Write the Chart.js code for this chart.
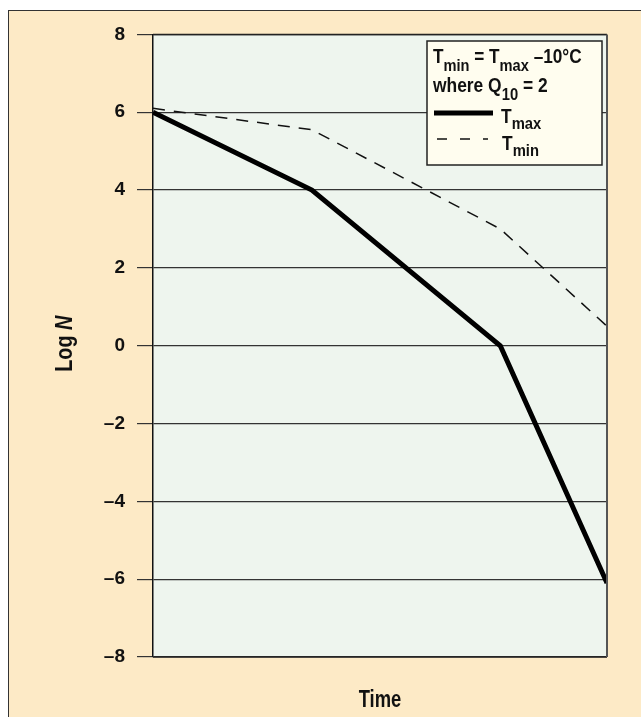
<!DOCTYPE html>
<html><head><meta charset="utf-8">
<script src="https://cdn.jsdelivr.net/npm/chart.js@4"></script>
<style>
html,body{margin:0;padding:0;background:#fff;}
#panel{position:absolute;left:8px;top:10px;width:632px;height:706px;background:#FDEAC6;border-top:1px solid #333;border-left:1px solid #333;}
canvas{display:block;}
</style></head><body>
<div id="panel"><canvas id="c" width="632" height="706"></canvas></div>
<script>
const timePoints = [0, 3.5, 7.65, 10];
const tmaxLogN = [6, 4, 0, -6.1];
const tminLogN = [6.1, 5.55, 3.0, 0.5];
const yTickValues = [-8, -6, -4, -2, 0, 2, 4, 6, 8];
const yTickLabels = ['–8', '–6', '–4', '–2', '0', '2', '4', '6', '8'];
const xAxisTitle = 'Time';
const yAxisTitle = ['Log ', 'N'];

const FONT = "'Liberation Sans', Arial, sans-serif";

// draws text parts (with subscripts) horizontally condensed by sx
function drawRich(ctx, parts, x, y, size, subSize, subOff, sx) {
  ctx.save();
  ctx.translate(x, y);
  ctx.scale(sx, 1);
  ctx.textAlign = 'left';
  ctx.textBaseline = 'alphabetic';
  let cx = 0;
  for (const p of parts) {
    if (p.sub) {
      ctx.font = 'bold ' + subSize + 'px ' + FONT;
      ctx.fillText(p.t, cx, subOff);
    } else {
      ctx.font = (p.it ? 'italic ' : '') + 'bold ' + size + 'px ' + FONT;
      ctx.fillText(p.t, cx, 0);
    }
    cx += ctx.measureText(p.t).width;
  }
  ctx.restore();
  return cx * sx;
}
function measureRich(ctx, parts, size, subSize, sx) {
  let w = 0;
  ctx.save();
  for (const p of parts) {
    ctx.font = p.sub ? 'bold ' + subSize + 'px ' + FONT : (p.it ? 'italic ' : '') + 'bold ' + size + 'px ' + FONT;
    w += ctx.measureText(p.t).width;
  }
  ctx.restore();
  return w * sx;
}

const bgPlugin = {
  id: 'bg',
  beforeDraw(chart) {
    const {ctx, chartArea: a} = chart;
    ctx.save();
    ctx.fillStyle = '#EEF5EE';
    ctx.fillRect(a.left, a.top, a.right - a.left, a.bottom - a.top);
    ctx.restore();
  }
};

const framePlugin = {
  id: 'frame',
  afterDatasetsDraw(chart) {
    const {ctx, chartArea: a} = chart;
    ctx.save();
    ctx.strokeStyle = '#222';
    ctx.lineWidth = 1.5;
    ctx.beginPath();
    ctx.moveTo(a.left, a.top); ctx.lineTo(a.right, a.top);
    ctx.moveTo(a.left, a.bottom); ctx.lineTo(a.right, a.bottom);
    ctx.stroke();
    ctx.strokeStyle = '#555';
    ctx.lineWidth = 2;
    ctx.beginPath();
    ctx.moveTo(a.right, a.top); ctx.lineTo(a.right, a.bottom);
    ctx.stroke();
    ctx.restore();
  }
};

const titlesPlugin = {
  id: 'titles',
  afterDraw(chart) {
    const {ctx, chartArea: a} = chart;
    ctx.save();
    ctx.fillStyle = '#111';
    // x title
    const xParts = [{t: xAxisTitle}];
    const xw = measureRich(ctx, xParts, 23, 18, 0.8);
    drawRich(ctx, xParts, (a.left + a.right) / 2 - xw / 2, 696, 23, 18, 0, 0.8);
    // y title rotated
    ctx.translate(0, 0);
    const yParts = [{t: yAxisTitle[0]}, {t: yAxisTitle[1], it: true}];
    const yw = measureRich(ctx, yParts, 23, 18, 0.86);
    ctx.translate(63, (a.top + a.bottom) / 2 - 2);
    ctx.rotate(-Math.PI / 2);
    drawRich(ctx, yParts, -yw / 2, 0, 23, 18, 0, 0.86);
    ctx.restore();
  }
};

const legendPlugin = {
  id: 'customLegend',
  afterDraw(chart) {
    const ctx = chart.ctx;
    const ds = chart.data.datasets;
    ctx.save();
    ctx.fillStyle = '#FFFDEF';
    ctx.fillRect(418, 30, 175, 124);
    ctx.strokeStyle = '#222';
    ctx.lineWidth = 1.5;
    ctx.strokeRect(418, 30, 175, 124);
    ctx.fillStyle = '#111';
    drawRich(ctx, [{t: 'T'}, {t: 'min', sub: true}, {t: ' = T'}, {t: 'max', sub: true}, {t: ' –10°C'}], 424, 52, 20, 17, 8, 0.86);
    drawRich(ctx, [{t: 'where Q'}, {t: '10', sub: true}, {t: ' = 2'}], 424, 81, 20, 17, 8, 0.87);
    // sample Tmax
    ctx.strokeStyle = ds[0].borderColor;
    ctx.lineWidth = ds[0].borderWidth;
    ctx.beginPath(); ctx.moveTo(425, 102); ctx.lineTo(484, 102); ctx.stroke();
    drawRich(ctx, [{t: 'T'}, {t: 'max', sub: true}], 492, 112, 20, 17, 6, 0.87);
    // sample Tmin
    ctx.strokeStyle = ds[1].borderColor;
    ctx.lineWidth = ds[1].borderWidth;
    ctx.setLineDash([10, 13]);
    ctx.beginPath(); ctx.moveTo(428, 128); ctx.lineTo(479, 128); ctx.stroke();
    ctx.setLineDash([]);
    drawRich(ctx, [{t: 'T'}, {t: 'min', sub: true}], 493, 139, 20, 17, 6, 0.87);
    ctx.restore();
  }
};

new Chart(document.getElementById('c'), {
  type: 'line',
  data: {
    datasets: [
      {
        label: 'Tmax',
        data: timePoints.map((t, i) => ({x: t, y: tmaxLogN[i]})),
        borderColor: '#000',
        borderWidth: 5,
        pointRadius: 0,
        tension: 0,
        fill: false
      },
      {
        label: 'Tmin',
        data: timePoints.map((t, i) => ({x: t, y: tminLogN[i]})),
        borderColor: '#111',
        borderWidth: 1.5,
        borderDash: [12, 9],
        pointRadius: 0,
        tension: 0,
        fill: false
      }
    ]
  },
  options: {
    responsive: false,
    animation: false,
    layout: {padding: {left: 0, top: 23, right: 34, bottom: 60}},
    plugins: {legend: {display: false}, tooltip: {enabled: false}},
    scales: {
      x: {type: 'linear', min: 0, max: 10, display: false},
      y: {
        type: 'linear', min: -8, max: 8,
        ticks: {
          stepSize: 2,
          color: '#111',
          padding: 12,
          font: {family: FONT, size: 19, weight: 'bold'},
          callback: (v) => {
            const i = yTickValues.indexOf(v);
            return i >= 0 ? yTickLabels[i] : '';
          }
        },
        grid: {color: '#333', lineWidth: 1.2, tickLength: 16, tickColor: '#333'},
        border: {display: true, color: '#111', width: 1.5},
        afterFit(axis) { axis.width = 144; }
      }
    }
  },
  plugins: [bgPlugin, framePlugin, titlesPlugin, legendPlugin]
});
</script>
</body></html>
